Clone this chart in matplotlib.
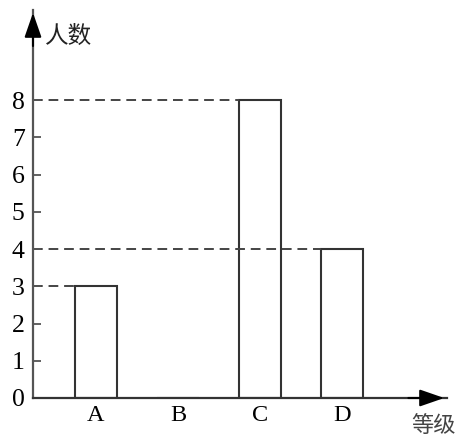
import numpy as np
import matplotlib.pyplot as plt

# data
grades = ['A', 'B', 'C', 'D']
counts = [3, 0, 8, 4]
y_ticks = [0, 1, 2, 3, 4, 5, 6, 7, 8]

plt.rcParams['font.family'] = ['Liberation Serif', 'Noto Sans CJK SC']

fig = plt.figure(figsize=(4.63, 4.43), dpi=100)
ax = fig.add_axes([33 / 463, 45 / 443, 414 / 463, 388 / 443])

x = np.arange(len(grades))
ax.bar(x, counts, width=0.51, facecolor='white', edgecolor='#333333', linewidth=1.5)

# dashed guides from y axis to the left edge of the bar
xmin = -0.768
for xi, c in zip(x, counts):
    if c > 0:
        ax.plot([xmin, xi - 0.255], [c, c], color='#444444', lw=1.4,
                ls=(0, (5, 3)), zorder=1)

ax.set_xlim(xmin, 4.28)
ax.set_ylim(0, 10.42)

for s in ['top', 'right']:
    ax.spines[s].set_visible(False)
ax.spines['left'].set_color('#555555')
ax.spines['bottom'].set_color('#333333')
ax.spines['left'].set_linewidth(1.6)
ax.spines['bottom'].set_linewidth(1.6)

ax.set_yticks(y_ticks)
ax.set_yticklabels([str(t) for t in y_ticks], fontsize=18.5)
ax.tick_params(axis='y', direction='in', length=6, width=1.3, color='#555555', pad=6)
ax.set_xticks(x)
ax.set_xticklabels(grades, fontsize=17.5)
ax.tick_params(axis='x', length=0, pad=5)

# arrows
arrow = dict(arrowstyle='-|>,head_length=0.75,head_width=0.26',
             color='black', lw=1.5, mutation_scale=20)
ax.annotate('', xy=(0, 1.0), xytext=(0, 0.9), xycoords='axes fraction', arrowprops=arrow)
ax.annotate('', xy=(1.0, 0), xytext=(0.9, 0), xycoords='axes fraction', arrowprops=arrow)

fig.text(45 / 463, 1 - 36 / 443, '人数', fontsize=17, va='center', ha='left',
         family=['Noto Sans CJK SC'], color='#222222')
fig.text(434 / 463, 1 - 425 / 443, '等级', fontsize=16, va='center', ha='center',
         family=['Noto Sans CJK SC'], color='#444444')

fig.savefig('out.png', dpi=100)
